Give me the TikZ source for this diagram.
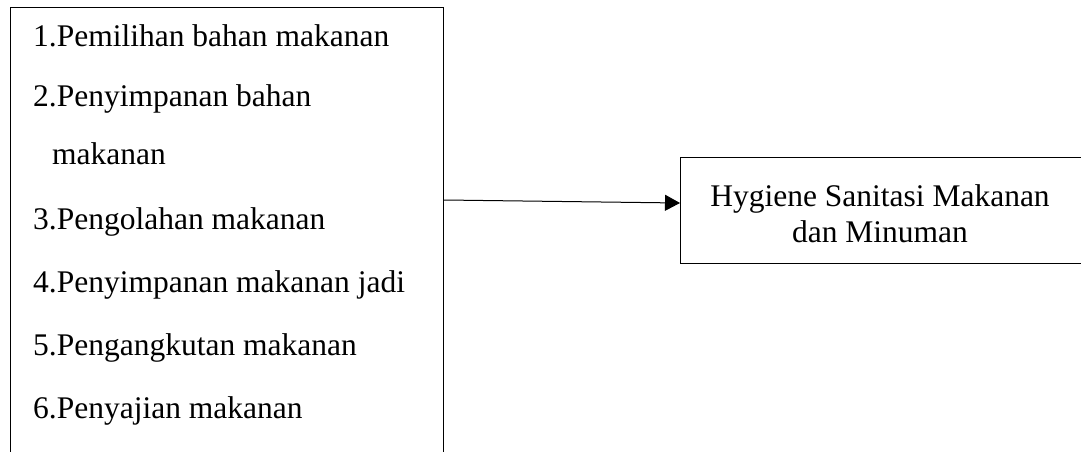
\documentclass[tikz,border=0pt]{standalone}
\usepackage{fontspec}
\setmainfont{Liberation Serif}
\usetikzlibrary{arrows.meta,calc}
\begin{document}
\begin{tikzpicture}[x=1pt,y=-1pt,
  boxline/.style={draw=black,line width=1pt},
  item/.style={anchor=base west,inner sep=0pt,font=\fontsize{31.5}{38}\selectfont},
  label/.style={anchor=base,inner sep=0pt,font=\fontsize{31.5}{38}\selectfont},
  flow/.style={line width=1pt,-{Triangle[length=15pt,width=16pt]}}]
\useasboundingbox (0,0) rectangle (1081,452);
\clip (0,0) rectangle (1081,452);
\fill[white] (0,0) rectangle (1081,452);

% list of steps, box runs past the lower edge
\node[boxline,rectangle,minimum width=433pt,minimum height=500pt,anchor=north west,inner sep=0pt] (steps) at (10,7) {};
\node[item] (s1) at (33,47) {1.Pemilihan bahan makanan};
\node[item] (s2) at (33,106) {2.Penyimpanan bahan};
\node[item] (s2b) at (52,164) {makanan};
\node[item] (s3) at (33,229) {3.Pengolahan makanan};
\node[item] (s4) at (33,292) {4.Penyimpanan makanan jadi};
\node[item] (s5) at (33,355) {5.Pengangkutan makanan};
\node[item] (s6) at (33,418) {6.Penyajian makanan};

% outcome box, runs past the right edge
\node[boxline,rectangle,minimum width=440pt,minimum height=106pt,anchor=north west,inner sep=0pt] (goal) at (680,157) {};
\node[label] (g1) at (880,206) {Hygiene Sanitasi Makanan};
\node[label] (g2) at (880,242) {dan Minuman};

\coordinate (from) at ($(steps.north east)+(0,193)$);
\coordinate (to) at ($(goal.north west)+(0,46)$);
\draw[flow] (from) -- (to);
\end{tikzpicture}
\end{document}
